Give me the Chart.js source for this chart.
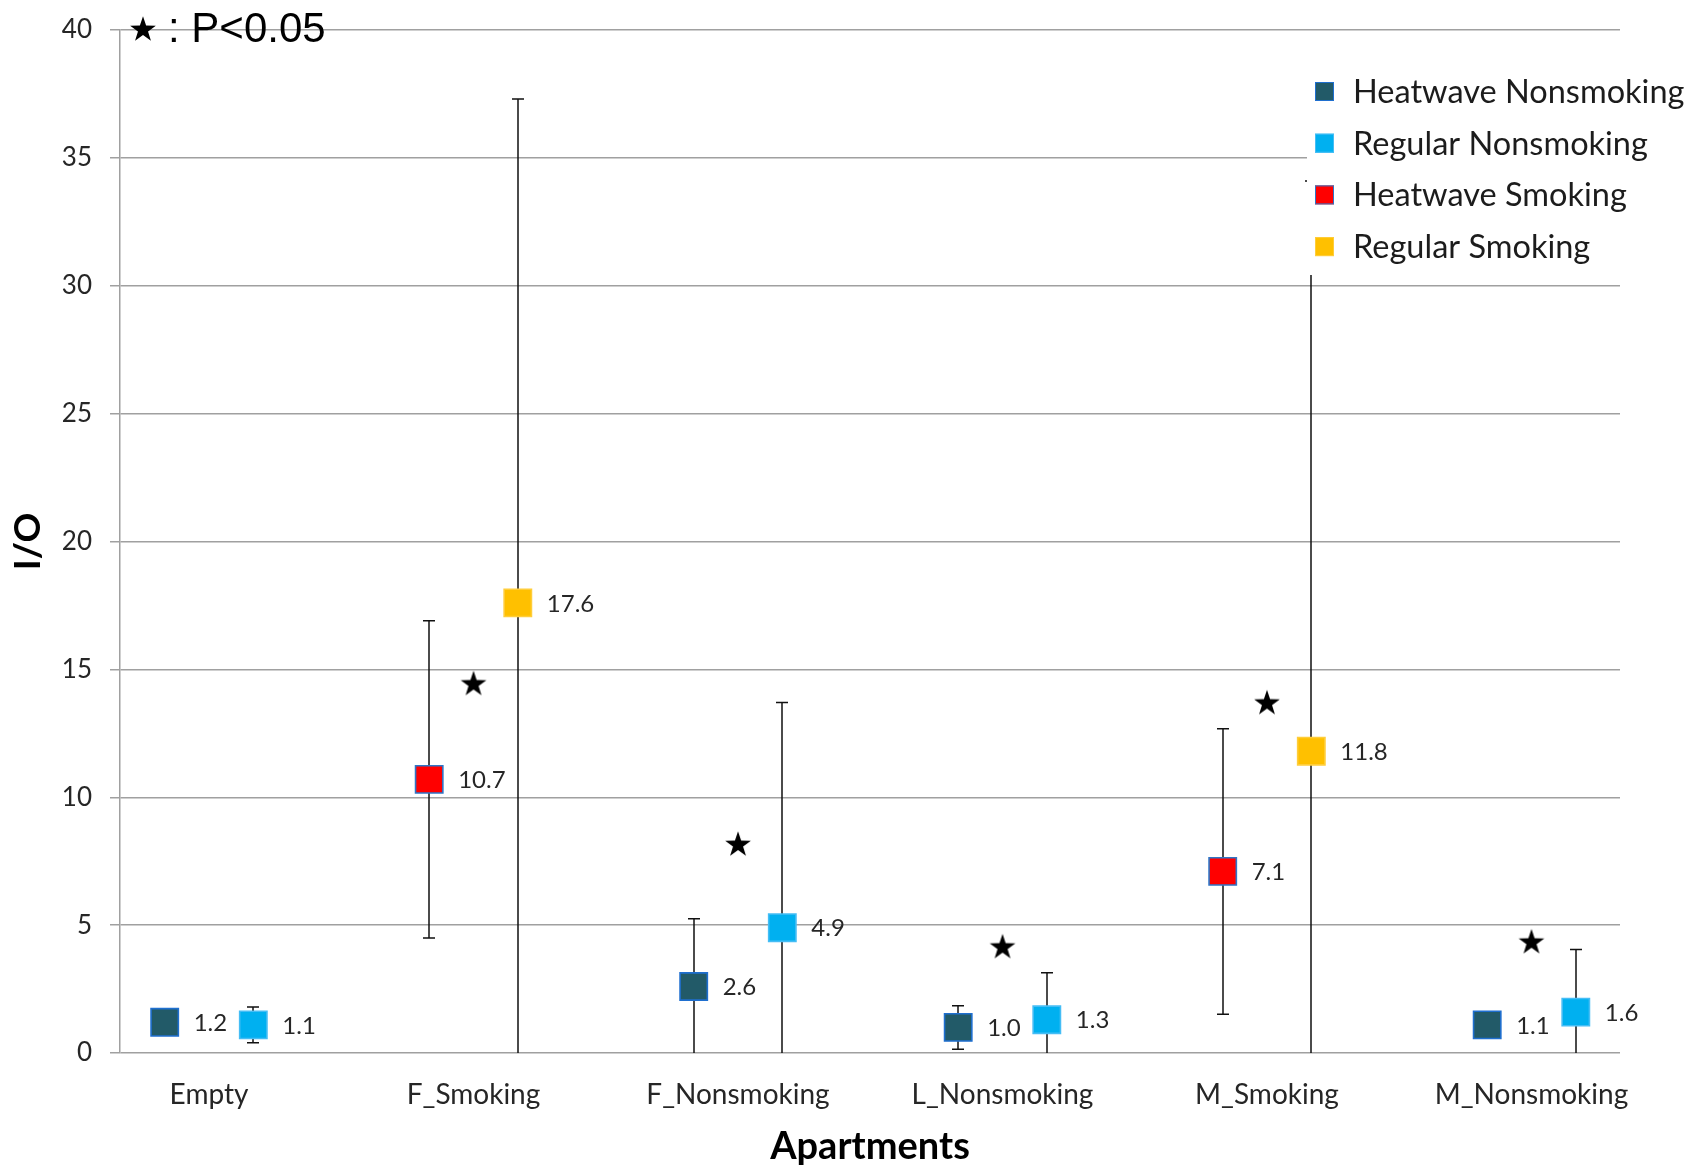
<!DOCTYPE html>
<html><head><meta charset="utf-8">
<script src="https://cdn.jsdelivr.net/npm/chart.js@4.4.1/dist/chart.umd.min.js"></script>
<style>html,body{margin:0;padding:0;background:#fff;overflow:hidden}</style>
</head><body>
<canvas id="c" width="1688" height="1166"></canvas>
<script>
// ---- data ----
const categories = ['Empty', 'F_Smoking', 'F_Nonsmoking', 'L_Nonsmoking', 'M_Smoking', 'M_Nonsmoking'];
const seriesNames = ['Heatwave Nonsmoking', 'Regular Nonsmoking', 'Heatwave Smoking', 'Regular Smoking'];
const heatwaveNonsmoking = [1.2, null, 2.6, 1.0, null, 1.1];
const regularNonsmoking  = [1.1, null, 4.9, 1.3, null, 1.6];
const heatwaveSmoking    = [null, 10.7, null, null, 7.1, null];
const regularSmoking     = [null, 17.6, null, null, 11.8, null];
const errHeatwaveNonsmoking = [0, null, 2.65, 0.85, null, 0];
const errRegularNonsmoking  = [0.7, null, 8.8, 1.84, null, 2.45];
const errHeatwaveSmoking    = [null, 6.2, null, null, 5.58, null];
const errRegularSmoking     = [null, 19.7, null, null, 22.3, null];
const significanceStars = [null, 14.45, 8.17, 4.16, 13.7, 4.35];
const yTicks = [0, 5, 10, 15, 20, 25, 30, 35, 40];
const significanceNote = ': P<0.05';
const xTitle = 'Apartments';
const yTitle = 'I/O';

// ---- styling ----
const PAIR = 0.1675;
const TXT = '#262626';

const star = document.createElement('canvas');
star.width = 28; star.height = 28;
(function(){
  const sc = star.getContext('2d');
  sc.fillStyle = '#000';
  sc.beginPath();
  for (let k = 0; k < 10; k++) {
    const r = (k % 2) ? 5.3 : 13.5;
    const a = -Math.PI / 2 + k * Math.PI / 5;
    sc.lineTo(14 + r * Math.cos(a), 14.8 + r * Math.sin(a));
  }
  sc.closePath(); sc.fill();
})();

function markerDs(label, vals, errs, off, fill, border) {
  return {
    label,
    data: vals.map((v, i) => v == null ? null : { x: i + off, y: v, e: errs[i] }).filter(Boolean),
    backgroundColor: fill, borderColor: border,
    pointStyle: 'rect', pointRadius: 19.3, pointHoverRadius: 19.3, pointBorderWidth: 1.6,
    showLine: false, errorBars: true, valueLabels: true
  };
}

const datasets = [
  markerDs(seriesNames[0], heatwaveNonsmoking, errHeatwaveNonsmoking, -PAIR, '#225a68', '#1f6fcf'),
  markerDs(seriesNames[1], regularNonsmoking, errRegularNonsmoking, PAIR, '#00b0f0', '#45bdf5'),
  markerDs(seriesNames[2], heatwaveSmoking, errHeatwaveSmoking, -PAIR, '#ff0000', '#2e75c6'),
  markerDs(seriesNames[3], regularSmoking, errRegularSmoking, PAIR, '#ffc000', '#ffcd3a'),
  {
    label: 'significance',
    data: significanceStars.map((v, i) => v == null ? null : { x: i, y: v }).filter(Boolean),
    pointStyle: star, pointRadius: 14, pointHoverRadius: 14, showLine: false, legendSkip: true
  }
];

const errorBarPlugin = {
  id: 'errorBars',
  beforeDatasetsDraw(chart) {
    const { ctx, chartArea: a, scales: { y } } = chart;
    ctx.save();
    ctx.beginPath(); ctx.rect(a.left, a.top, a.right - a.left, a.bottom - a.top); ctx.clip();
    ctx.strokeStyle = '#111'; ctx.lineWidth = 1.5;
    chart.data.datasets.forEach((ds, di) => {
      if (!ds.errorBars) return;
      const meta = chart.getDatasetMeta(di);
      meta.data.forEach((el, j) => {
        const p = ds.data[j];
        if (!p.e) return;
        const x = Math.round(el.x);
        const yh = y.getPixelForValue(p.y + p.e), yl = y.getPixelForValue(p.y - p.e);
        ctx.beginPath();
        ctx.moveTo(x, yh); ctx.lineTo(x, yl);
        ctx.moveTo(x - 6, yh); ctx.lineTo(x + 6, yh);
        ctx.moveTo(x - 6, yl); ctx.lineTo(x + 6, yl);
        ctx.stroke();
      });
    });
    ctx.restore();
  }
};

const valueLabelPlugin = {
  id: 'valueLabels',
  afterDatasetsDraw(chart) {
    const { ctx } = chart;
    ctx.save();
    ctx.font = '24px Lato';
    ctx.fillStyle = TXT; ctx.textAlign = 'left'; ctx.textBaseline = 'middle';
    chart.data.datasets.forEach((ds, di) => {
      if (!ds.valueLabels) return;
      chart.getDatasetMeta(di).data.forEach((el, j) => {
        ctx.fillText(ds.data[j].y.toFixed(1), el.x + 29, el.y + 1);
      });
    });
    ctx.restore();
  }
};

const legendPlugin = {
  id: 'boxLegend',
  afterDraw(chart) {
    const { ctx } = chart;
    ctx.save();
    ctx.fillStyle = '#fff';
    ctx.fillRect(1307, 42, 381, 233);
    ctx.font = '32.5px Lato'; ctx.textBaseline = 'middle'; ctx.textAlign = 'left';
    let k = 0;
    chart.data.datasets.forEach(ds => {
      if (ds.legendSkip) return;
      const cy = 91.5 + k * 51.7;
      ctx.fillStyle = ds.backgroundColor;
      ctx.fillRect(1315, cy - 9.5, 19, 19);
      ctx.strokeStyle = ds.borderColor; ctx.lineWidth = 1;
      ctx.strokeRect(1315.5, cy - 9, 18, 18);
      ctx.fillStyle = '#1c1c1c';
      ctx.fillText(ds.label, 1353, cy + 1);
      k++;
    });
    // significance note
    ctx.drawImage(star, 129, 15, 28, 28);
    ctx.fillStyle = '#000';
    ctx.font = '42px "Liberation Sans", Arial, sans-serif';
    ctx.textBaseline = 'alphabetic';
    ctx.fillText(significanceNote, 168, 42);
    ctx.restore();
  }
};

new Chart(document.getElementById('c'), {
  type: 'scatter',
  data: { datasets },
  plugins: [errorBarPlugin, valueLabelPlugin, legendPlugin],
  options: {
    responsive: false, animation: false, devicePixelRatio: 1,
    layout: { padding: { top: 30, right: 68, left: 0, bottom: 0 }, autoPadding: false },
    plugins: { legend: { display: false }, tooltip: { enabled: false } },
    scales: {
      x: {
        type: 'linear', min: -0.3365, max: 5.3346,
        afterBuildTicks: s => { s.ticks = categories.map((c, i) => ({ value: i })); },
        afterFit: s => { s.height = 113; s.paddingLeft = 0; s.paddingRight = 0; },
        ticks: { callback: v => categories[v], font: { family: 'Lato', size: 28 }, color: TXT, padding: 25, maxRotation: 0, autoSkip: false },
        grid: { display: false, drawTicks: false },
        border: { display: false },
        title: { display: true, text: xTitle, font: { family: 'Lato', size: 38, weight: 'bold' }, color: '#000', padding: { top: 0, bottom: -4 } }
      },
      y: {
        min: 0, max: 40,
        afterBuildTicks: s => { s.ticks = yTicks.map(v => ({ value: v })); },
        afterFit: s => { s.width = 120; s.paddingTop = 0; s.paddingBottom = 0; },
        ticks: { font: { family: 'Lato', size: 26 }, color: TXT, padding: 18 },
        grid: { color: '#a0a0a0', lineWidth: 1.5, tickLength: 10, drawTicks: true },
        border: { display: true, color: '#a0a0a0', width: 1.5 },
        title: { display: true, text: yTitle, font: { family: 'Lato', size: 37, weight: 'bold' }, color: '#000', padding: { top: 6, bottom: 0 } }
      }
    }
  }
});
</script>
</body></html>
